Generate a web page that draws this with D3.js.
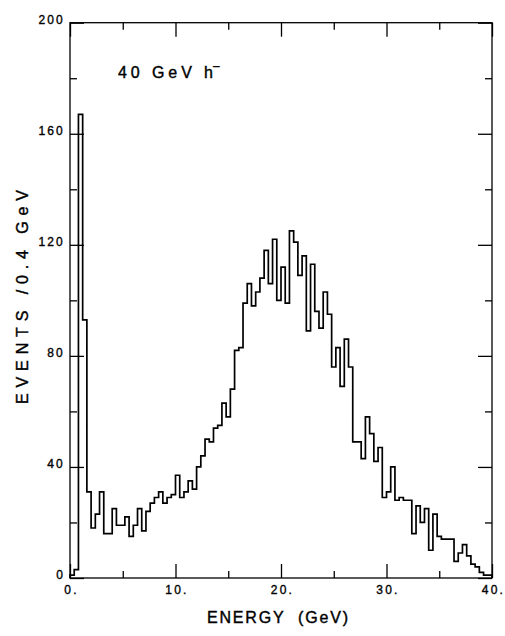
<!DOCTYPE html>
<html><head><meta charset="utf-8">
<script src="https://cdn.jsdelivr.net/npm/d3@7"></script>
<style>body{margin:0;background:#fff}</style>
</head><body><div id="chart"></div>
<script>
// ---- data ----
const binWidth = 0.4;
const counts = [
  1, 3, 167, 93, 31, 18, 23, 31, 16, 16,
  25, 19, 19, 22, 15, 19, 25, 17, 24, 27,
  29, 31, 27, 29, 30, 37, 29, 31, 35, 32,
  40, 44, 50, 49, 54, 55, 63, 58, 68, 82,
  83, 99, 106, 98, 103, 108, 118, 106, 122, 100,
  112, 99, 125, 121, 109, 116, 89, 113, 96, 90,
  103, 95, 76, 83, 69, 86, 76, 49, 49, 43,
  58, 52, 42, 47, 29, 31, 40, 28, 29, 28,
  28, 16, 26, 20, 25, 10, 23, 15, 14, 14,
  14, 6, 9, 12, 8, 5, 4, 2, 1, 1
];
const xMajorTicks = [0, 10, 20, 30, 40];
const xMinorTicks = [5, 15, 25, 35];
const yMajorTicks = [0, 40, 80, 120, 160, 200];
const yMinorTicks = [20, 60, 100, 140, 180];
const xTickLabels = ["0.", "10.", "20.", "30.", "40."];
const yTickLabels = ["0", "40", "80", "120", "160", "200"];
const titleMain = "40 GeV h";
const titleSup = "\u2212";
const xTitle = "ENERGY\u00a0\u00a0(GeV)";
const yTitle = "EVENTS /0.4 GeV";

// ---- layout ----
const W = 505, H = 636;
const L = 70, R = 492, T = 22.7, B = 578;
const FONT = "'Liberation Sans', Arial, sans-serif";

const svg = d3.select("#chart").append("svg")
  .attr("width", W).attr("height", H)
  .style("font-family", FONT);

const x = d3.scaleLinear().domain([0, 40]).range([L, R]);
const y = d3.scaleLinear().domain([0, 200]).range([B, T]);

function styleAxis(g) {
  g.select(".domain").remove();
  g.selectAll(".tick line").attr("stroke", "#000").attr("stroke-width", 1.3);
  g.selectAll("text").attr("fill", "#000").attr("stroke", "#000").attr("stroke-width", 0.35)
    .style("font-family", FONT)
    .style("font-size", "12px").style("letter-spacing", "2.2px");
}

// bottom
svg.append("g").attr("transform", `translate(0,${B})`)
  .call(d3.axisBottom(x).tickValues(xMajorTicks).tickSize(-14).tickPadding(7)
    .tickFormat((d, i) => xTickLabels[i]))
  .call(styleAxis)
  .call(g => g.selectAll("text").attr("dx", "1px"));
svg.append("g").attr("transform", `translate(0,${B})`)
  .call(d3.axisBottom(x).tickValues(xMinorTicks).tickSize(-7).tickFormat(""))
  .call(styleAxis);
// top
svg.append("g").attr("transform", `translate(0,${T})`)
  .call(d3.axisTop(x).tickValues(xMajorTicks).tickSize(-14).tickFormat(""))
  .call(styleAxis);
svg.append("g").attr("transform", `translate(0,${T})`)
  .call(d3.axisTop(x).tickValues(xMinorTicks).tickSize(-7).tickFormat(""))
  .call(styleAxis);
// left
svg.append("g").attr("transform", `translate(${L},0)`)
  .call(d3.axisLeft(y).tickValues(yMajorTicks).tickSize(-14).tickPadding(5)
    .tickFormat((d, i) => yTickLabels[i]))
  .call(styleAxis)
  .call(g => g.selectAll("text").attr("dy", "0.05em"));
svg.append("g").attr("transform", `translate(${L},0)`)
  .call(d3.axisLeft(y).tickValues(yMinorTicks).tickSize(-7).tickFormat(""))
  .call(styleAxis);
// right
svg.append("g").attr("transform", `translate(${R},0)`)
  .call(d3.axisRight(y).tickValues(yMajorTicks).tickSize(-14).tickFormat(""))
  .call(styleAxis);
svg.append("g").attr("transform", `translate(${R},0)`)
  .call(d3.axisRight(y).tickValues(yMinorTicks).tickSize(-7).tickFormat(""))
  .call(styleAxis);

// frame
svg.append("rect").attr("x", L).attr("y", T).attr("width", R - L).attr("height", B - T)
  .attr("fill", "none").attr("stroke", "#000").attr("stroke-width", 1.3);

// histogram
const pts = [[0, 0]];
counts.forEach((c, i) => pts.push([i * binWidth, c]));
pts.push([counts.length * binWidth, 0]);
const line = d3.line().x(d => x(d[0])).y(d => y(d[1])).curve(d3.curveStepAfter);
svg.append("path").attr("d", line(pts))
  .attr("fill", "none").attr("stroke", "#000").attr("stroke-width", 1.7)
  .attr("stroke-linejoin", "miter");

// title and axis titles
const txt = svg.append("g").attr("fill", "#000").attr("stroke", "#000").attr("stroke-width", 0.4);
txt.append("text").attr("x", 118).attr("y", 78.3)
  .attr("textLength", 95).attr("lengthAdjust", "spacing")
  .style("font-size", "16px").text(titleMain);
txt.append("text").attr("x", 212.5).attr("y", 71)
  .style("font-size", "13px").text(titleSup);
txt.append("text").attr("x", 207).attr("y", 623.3)
  .attr("textLength", 141).attr("lengthAdjust", "spacing")
  .style("font-size", "16px").text(xTitle);
txt.append("text")
  .attr("transform", "translate(28,404) rotate(-90)")
  .attr("textLength", 214).attr("lengthAdjust", "spacing")
  .style("font-size", "16px").text(yTitle);
</script>
</body></html>
